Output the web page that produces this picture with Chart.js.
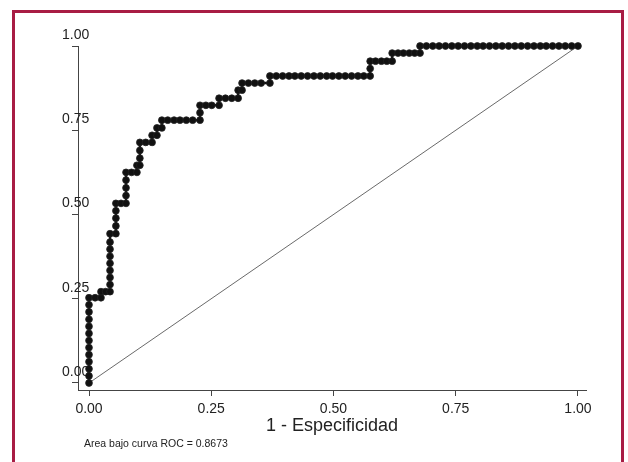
<!DOCTYPE html>
<html>
<head>
<meta charset="utf-8">
<script src="https://cdn.jsdelivr.net/npm/chart.js@4.4.1/dist/chart.umd.min.js"></script>
<style>
  html, body { margin: 0; padding: 0; background: #ffffff; }
  #wrap { width: 628px; height: 462px; position: relative; }
</style>
</head>
<body>
<div id="wrap"><canvas id="c" width="628" height="462"></canvas></div>
<script>
// ---- Data ----
// ROC curve: 1 - especificidad (x) and sensibilidad (y)
const fpr = [
  0, 0, 0, 0, 0, 0, 0, 0, 0, 0, 0, 0, 0,
  0.0125, 0.0245, 0.0245, 0.034, 0.043,
  0.043, 0.043, 0.043, 0.043, 0.043, 0.043, 0.043, 0.043,
  0.055, 0.055, 0.055, 0.055, 0.055,
  0.0655, 0.0757,
  0.0757, 0.0757, 0.0757, 0.0757,
  0.087, 0.098, 0.098, 0.104,
  0.104, 0.104, 0.104,
  0.116, 0.129, 0.129, 0.139, 0.139, 0.149, 0.149,
  0.161, 0.174, 0.186, 0.199, 0.212, 0.227,
  0.227, 0.227,
  0.239, 0.251, 0.266, 0.266,
  0.279, 0.292, 0.305, 0.305, 0.313, 0.313,
  0.326, 0.339, 0.352, 0.370, 0.370,
  0.383, 0.396, 0.409, 0.421, 0.434, 0.447, 0.460, 0.473, 0.486, 0.498, 0.511, 0.524, 0.537, 0.550, 0.562, 0.575,
  0.575, 0.575,
  0.586, 0.598, 0.609, 0.620, 0.620,
  0.632, 0.643, 0.655, 0.666, 0.677, 0.677,
  0.690, 0.703, 0.716, 0.729, 0.742, 0.755, 0.768, 0.781, 0.794, 0.806, 0.819, 0.832, 0.845, 0.858, 0.871, 0.884, 0.897, 0.910, 0.923, 0.935, 0.948, 0.961, 0.974, 0.987, 1.0
];
const tpr = [
  0, 0.021, 0.042, 0.063, 0.084, 0.105, 0.126, 0.147, 0.168, 0.189, 0.211, 0.232, 0.253,
  0.253, 0.253, 0.271, 0.271, 0.271,
  0.292, 0.313, 0.334, 0.355, 0.376, 0.397, 0.418, 0.443,
  0.443, 0.466, 0.489, 0.511, 0.533,
  0.533, 0.533,
  0.556, 0.579, 0.602, 0.625,
  0.625, 0.625, 0.646, 0.646,
  0.667, 0.690, 0.714,
  0.714, 0.714, 0.735, 0.735, 0.757, 0.757, 0.780,
  0.780, 0.780, 0.780, 0.780, 0.780, 0.780,
  0.802, 0.824,
  0.824, 0.824, 0.824, 0.845,
  0.845, 0.845, 0.845, 0.869, 0.869, 0.890,
  0.890, 0.890, 0.890, 0.890, 0.911,
  0.911, 0.911, 0.911, 0.911, 0.911, 0.911, 0.911, 0.911, 0.911, 0.911, 0.911, 0.911, 0.911, 0.911, 0.911, 0.911,
  0.933, 0.955,
  0.955, 0.955, 0.955, 0.955, 0.979,
  0.979, 0.979, 0.979, 0.979, 0.979, 1.0,
  1.0, 1.0, 1.0, 1.0, 1.0, 1.0, 1.0, 1.0, 1.0, 1.0, 1.0, 1.0, 1.0, 1.0, 1.0, 1.0, 1.0, 1.0, 1.0, 1.0, 1.0, 1.0, 1.0, 1.0, 1.0
];
// Reference diagonal
const diagX = [0, 1];
const diagY = [0, 1];
// Tick values and labels
const xTickValues = [0, 0.25, 0.5, 0.75, 1];
const xTickLabels = ["0.00", "0.25", "0.50", "0.75", "1.00"];
const yTickValues = [0, 0.25, 0.5, 0.75, 1];
const yTickLabels = ["0.00", "0.25", "0.50", "0.75", "1.00"];
const xTitle = "1 - Especificidad";
const footnote = "Area bajo curva ROC = 0.8673";

// ---- Build chart ----
const rocPoints = fpr.map((x, i) => ({ x: x, y: tpr[i] }));
const diagPoints = diagX.map((x, i) => ({ x: x, y: diagY[i] }));

const framePlugin = {
  id: 'frame',
  beforeDraw(chart) {
    const ctx = chart.ctx;
    ctx.save();
    ctx.fillStyle = '#ffffff';
    ctx.fillRect(0, 0, chart.width, chart.height);
    ctx.restore();
  },
  afterDraw(chart) {
    const ctx = chart.ctx;
    ctx.save();
    ctx.strokeStyle = '#a81c44';
    ctx.lineWidth = 3;
    ctx.beginPath();
    ctx.moveTo(13.5, 470);
    ctx.lineTo(13.5, 11.5);
    ctx.lineTo(622.5, 11.5);
    ctx.lineTo(622.5, 470);
    ctx.stroke();
    ctx.fillStyle = '#222';
    ctx.font = '10.5px "Liberation Sans", Arial, sans-serif';
    ctx.textBaseline = 'alphabetic';
    ctx.textAlign = 'left';
    ctx.fillText(footnote, 84, 447);
    ctx.restore();
  }
};

new Chart(document.getElementById('c'), {
  type: 'line',
  data: {
    datasets: [
      {
        data: diagPoints,
        borderColor: '#6a6a6a',
        borderWidth: 1,
        pointRadius: 0,
        fill: false,
        tension: 0,
        clip: false,
        order: 2
      },
      {
        data: rocPoints,
        borderColor: '#111111',
        borderWidth: 2.5,
        pointRadius: 3.4,
        pointBackgroundColor: '#111111',
        pointBorderColor: '#222222',
        pointBorderWidth: 0.8,
        pointStyle: 'circle',
        fill: false,
        tension: 0,
        clip: false,
        order: 1
      }
    ]
  },
  plugins: [framePlugin],
  options: {
    responsive: false,
    animation: false,
    events: [],
    layout: { padding: { top: 46, right: 42, bottom: 22, left: 0 } },
    plugins: {
      legend: { display: false },
      tooltip: { enabled: false },
      title: { display: false }
    },
    scales: {
      x: {
        type: 'linear',
        min: -0.0225,
        max: 1.0164,
        afterBuildTicks(scale) {
          scale.ticks = xTickValues.map(v => ({ value: v }));
        },
        afterFit(scale) { scale.height = 50; },
        ticks: {
          autoSkip: false,
          maxRotation: 0,
          padding: 5,
          color: '#222',
          font: { family: '"Liberation Sans", Arial, sans-serif', size: 14 },
          callback(value) {
            const i = xTickValues.indexOf(value);
            return i >= 0 ? xTickLabels[i] : '';
          }
        },
        grid: {
          display: true,
          drawOnChartArea: false,
          drawTicks: true,
          tickLength: 6,
          color: '#444'
        },
        border: { display: true, color: '#444', width: 1 },
        title: {
          display: true,
          text: xTitle,
          color: '#222',
          padding: { top: 0, bottom: 3 },
          font: { family: '"Liberation Sans", Arial, sans-serif', size: 18 }
        }
      },
      y: {
        type: 'linear',
        min: -0.0208,
        max: 1.0,
        afterBuildTicks(scale) {
          scale.ticks = yTickValues.map(v => ({ value: v }));
        },
        afterFit(scale) { scale.width = 78; },
        ticks: {
          autoSkip: false,
          mirror: true,
          padding: -16,
          labelOffset: -11,
          color: '#222',
          font: { family: '"Liberation Sans", Arial, sans-serif', size: 14 },
          callback(value) {
            const i = yTickValues.indexOf(value);
            return i >= 0 ? yTickLabels[i] : '';
          }
        },
        grid: {
          display: true,
          drawOnChartArea: false,
          drawTicks: true,
          tickLength: 6,
          color: '#444'
        },
        border: { display: true, color: '#444', width: 1 }
      }
    }
  }
});
</script>
</body>
</html>
